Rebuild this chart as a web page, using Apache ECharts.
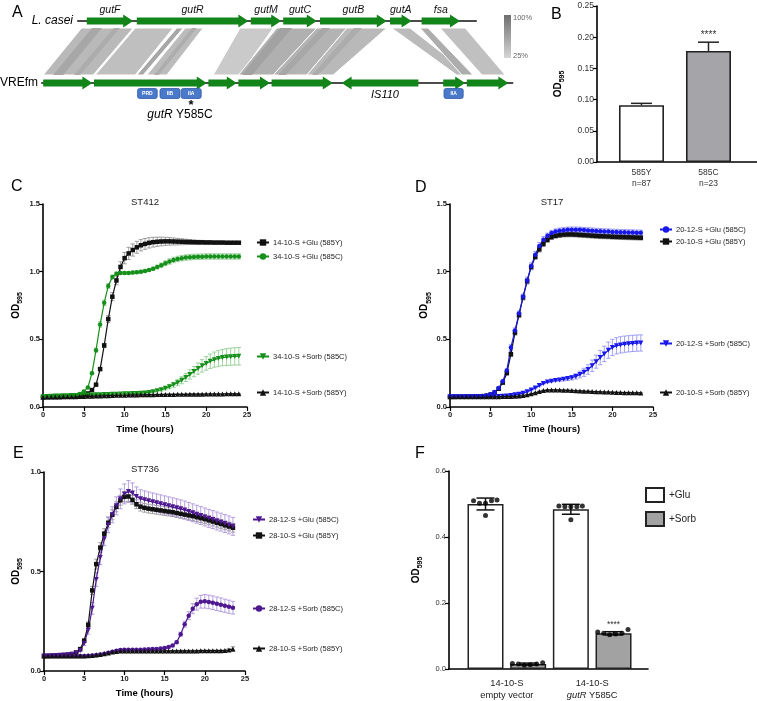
<!DOCTYPE html>
<html><head><meta charset="utf-8">
<script src="https://cdn.jsdelivr.net/npm/echarts@6/dist/echarts.min.js"></script>
<style>html,body{margin:0;padding:0;background:#fff}#c{width:757px;height:701px}</style>
</head><body><div id="c"></div>
<script>
const FONT = '"Liberation Sans", Arial, Helvetica, sans-serif';

// ---------------- Panel A : locus comparison (positions in kb) ----------------
const lcaseiGenes = ['gutF','gutR','gutM','gutC','gutB','gutA','fsa'];
const lcaseiStart = [1.17, 2.42, 5.27, 6.08, 7.00, 8.75, 9.54];
const lcaseiEnd   = [2.33, 5.21, 6.03, 6.92, 8.67, 9.29, 10.50];
const lcaseiSpan  = [0.93, 10.92];
const vrefmStart  = [0.08, 1.35, 4.21, 4.96, 5.79, 7.54, 10.08, 10.67];
const vrefmEnd    = [1.31, 4.17, 4.92, 5.75, 7.32, 9.46, 10.63, 11.71];
const vrefmStrand = [1, 1, 1, 1, 1, -1, 1, 1];
const vrefmSpan   = [0.03, 11.83];
const domainNames = ['PRD','IIB','IIA','IIA'];
const domainStart = [2.44, 3.00, 3.53, 10.10];
const domainEnd   = [2.93, 3.50, 4.03, 10.58];
// homology blocks (L. casei start/end, VREfm start/end, % identity)
const hbTopStart = [1.04, 2.38, 3.42, 3.63, 5.00, 5.92, 6.92, 7.67, 8.79, 9.50, 10.00];
const hbTopEnd   = [2.33, 3.33, 3.58, 4.08, 5.83, 6.92, 7.67, 8.67, 9.25, 9.70, 10.63];
const hbBotStart = [0.08, 1.38, 2.42, 2.67, 4.33, 4.96, 5.83, 6.67, 10.42, 10.55, 11.05];
const hbBotEnd   = [1.33, 2.38, 2.58, 3.17, 5.00, 5.83, 6.67, 7.33, 10.75, 10.83, 11.63];
const hbIdentity = [47, 43, 60, 45, 35, 54, 52, 47, 46, 56, 42];
// higher-identity sub-segments inside blocks
const hsTopStart = [1.30, 1.85, 3.80, 6.00, 7.05, 7.85];
const hsTopEnd   = [1.55, 2.00, 3.92, 6.30, 7.25, 8.05];
const hsBotStart = [0.33, 0.85, 2.85, 5.05, 5.95, 6.80];
const hsBotEnd   = [0.58, 1.00, 2.97, 5.30, 6.15, 6.95];
const hsIdentity = [60, 57, 56, 64, 60, 57];

// ---------------- Panel B ----------------
const bCategories = ['585Y\nn=87', '585C\nn=23'];
const bMeans = [0.091, 0.178];
const bSEM   = [0.003, 0.014];
const bSignif = ['', '****'];

// ---------------- Panels C, D, E (OD595 vs time, hours) ----------------
const cTime = [0,0.5,1,1.5,2,2.5,3,3.5,4,4.5,5,5.5,6,6.5,7,7.5,8,8.5,9,9.5,10,10.5,11,11.5,12,12.5,13,13.5,14,14.5,15,15.5,16,16.5,17,17.5,18,18.5,19,19.5,20,20.5,21,21.5,22,22.5,23,23.5,24];
const deTime = [0,0.5,1,1.5,2,2.5,3,3.5,4,4.5,5,5.5,6,6.5,7,7.5,8,8.5,9,9.5,10,10.5,11,11.5,12,12.5,13,13.5,14,14.5,15,15.5,16,16.5,17,17.5,18,18.5,19,19.5,20,20.5,21,21.5,22,22.5,23,23.5];

// C: ST412
const cGlu585Y = [0.073,0.073,0.074,0.074,0.075,0.075,0.076,0.077,0.079,0.083,0.089,0.100,0.125,0.165,
 0.280,0.455,0.650,0.815,0.935,1.035,1.100,1.135,1.160,1.180,1.195,1.205,1.213,1.218,1.221,1.223,
 1.224,1.224,1.223,1.222,1.221,1.220,1.219,1.218,1.217,1.217,1.216,1.216,1.215,1.215,1.215,1.214,1.214,1.214,1.214];
const cGlu585Ysd = [0.003,0.003,0.003,0.003,0.003,0.003,0.003,0.003,0.003,0.003,0.003,0.003,0.003,0.003,
 0.008,0.015,0.025,0.030,0.032,0.038,0.042,0.045,0.045,0.044,0.042,0.040,0.038,0.036,0.034,0.032,
 0.030,0.028,0.026,0.024,0.022,0.020,0.018,0.016,0.015,0.014,0.013,0.012,0.011,0.010,0.010,0.009,0.009,0.008,0.008];
const cGlu585C = [0.075,0.076,0.077,0.077,0.078,0.079,0.080,0.082,0.086,0.096,0.115,0.145,0.250,0.420,
 0.610,0.770,0.895,0.960,0.985,0.990,0.990,0.991,0.993,0.996,1.000,1.005,1.012,1.022,1.034,1.048,
 1.062,1.075,1.086,1.094,1.100,1.104,1.107,1.109,1.110,1.111,1.112,1.112,1.112,1.112,1.112,1.112,1.112,1.112,1.112];
const cGlu585Csd = [0.004,0.004,0.004,0.004,0.004,0.004,0.004,0.004,0.004,0.004,0.004,0.004,0.010,0.015,
 0.020,0.020,0.018,0.015,0.012,0.010,0.010,0.010,0.010,0.010,0.010,0.010,0.010,0.012,0.014,0.016,
 0.018,0.020,0.020,0.020,0.020,0.020,0.020,0.020,0.020,0.020,0.020,0.020,0.020,0.020,0.020,0.020,0.020,0.020,0.020];
const cSorb585C = [0.075,0.078,0.080,0.081,0.082,0.083,0.084,0.085,0.085,0.086,0.087,0.088,0.089,0.090,
 0.091,0.092,0.093,0.094,0.095,0.096,0.097,0.098,0.099,0.100,0.102,0.104,0.108,0.113,0.120,0.128,
 0.138,0.150,0.164,0.180,0.198,0.218,0.240,0.262,0.284,0.304,0.322,0.338,0.350,0.359,0.365,0.369,0.372,0.374,0.375];
const cSorb585Csd = [0.004,0.004,0.004,0.004,0.004,0.004,0.004,0.004,0.004,0.004,0.004,0.004,0.004,0.004,
 0.004,0.004,0.004,0.004,0.004,0.004,0.004,0.004,0.004,0.004,0.004,0.004,0.005,0.006,0.008,0.010,
 0.012,0.015,0.018,0.022,0.026,0.030,0.034,0.038,0.042,0.046,0.050,0.053,0.056,0.058,0.060,0.062,0.063,0.064,0.065];
const cSorb585Y = [0.072,0.073,0.073,0.074,0.074,0.075,0.075,0.076,0.076,0.077,0.078,0.079,0.080,0.081,
 0.082,0.083,0.084,0.085,0.086,0.087,0.087,0.088,0.089,0.089,0.090,0.090,0.091,0.091,0.092,0.092,
 0.093,0.093,0.093,0.094,0.094,0.094,0.095,0.095,0.095,0.095,0.096,0.096,0.096,0.096,0.096,0.097,0.097,0.097,0.097];
const cSorb585Ysd = [0.003,0.003,0.003,0.003,0.003,0.003,0.003,0.003,0.003,0.003,0.003,0.003,0.003,0.003,
 0.003,0.003,0.003,0.003,0.003,0.003,0.003,0.003,0.003,0.003,0.003,0.003,0.003,0.003,0.003,0.003,
 0.003,0.003,0.003,0.003,0.003,0.003,0.003,0.003,0.003,0.003,0.003,0.003,0.003,0.003,0.003,0.003,0.003,0.003,0.003];

// D: ST17
const dGlu585C = [0.075,0.075,0.076,0.076,0.077,0.077,0.078,0.079,0.081,0.085,0.094,0.110,0.140,0.190,
 0.270,0.440,0.565,0.690,0.815,0.935,1.040,1.125,1.190,1.235,1.265,1.285,1.296,1.302,1.306,1.309,
 1.310,1.310,1.309,1.307,1.305,1.303,1.301,1.299,1.297,1.296,1.294,1.293,1.292,1.291,1.290,1.289,1.288,1.287];
const dGlu585Csd = [0.003,0.003,0.003,0.003,0.003,0.003,0.003,0.003,0.003,0.003,0.003,0.003,0.003,0.003,
 0.010,0.020,0.020,0.020,0.020,0.025,0.025,0.025,0.025,0.025,0.020,0.020,0.020,0.020,0.020,0.020,
 0.020,0.020,0.020,0.020,0.020,0.020,0.020,0.020,0.020,0.020,0.020,0.020,0.020,0.020,0.020,0.020,0.020,0.020];
const dGlu585Y = [0.075,0.075,0.076,0.076,0.077,0.077,0.078,0.079,0.080,0.084,0.092,0.107,0.135,0.180,
 0.250,0.390,0.550,0.680,0.810,0.930,1.035,1.110,1.165,1.205,1.235,1.255,1.265,1.270,1.274,1.275,
 1.275,1.274,1.272,1.270,1.268,1.266,1.264,1.262,1.261,1.260,1.258,1.257,1.256,1.255,1.254,1.253,1.252,1.251];
const dGlu585Ysd = [0.003,0.003,0.003,0.003,0.003,0.003,0.003,0.003,0.003,0.003,0.003,0.003,0.003,0.003,
 0.010,0.015,0.020,0.020,0.020,0.020,0.020,0.020,0.020,0.020,0.018,0.018,0.018,0.018,0.018,0.018,
 0.018,0.018,0.018,0.018,0.018,0.018,0.018,0.018,0.018,0.018,0.018,0.018,0.018,0.018,0.018,0.018,0.018,0.018];
const dSorb585C = [0.075,0.075,0.075,0.075,0.075,0.075,0.075,0.075,0.075,0.075,0.076,0.076,0.077,0.079,
 0.082,0.085,0.090,0.095,0.102,0.113,0.125,0.140,0.158,0.174,0.184,0.190,0.196,0.200,0.205,0.210,
 0.216,0.226,0.240,0.256,0.277,0.305,0.335,0.365,0.392,0.420,0.440,0.452,0.459,0.464,0.467,0.470,0.472,0.473];
const dSorb585Csd = [0.004,0.004,0.004,0.004,0.004,0.004,0.004,0.004,0.004,0.004,0.004,0.004,0.004,0.004,
 0.004,0.004,0.004,0.004,0.004,0.004,0.004,0.004,0.004,0.004,0.004,0.006,0.008,0.010,0.012,0.014,
 0.016,0.020,0.025,0.030,0.035,0.042,0.048,0.053,0.057,0.060,0.060,0.060,0.060,0.060,0.060,0.060,0.060,0.060];
const dSorb585Y = [0.075,0.075,0.075,0.075,0.075,0.075,0.075,0.075,0.075,0.075,0.075,0.076,0.076,0.077,
 0.077,0.078,0.079,0.081,0.085,0.090,0.097,0.105,0.114,0.121,0.125,0.126,0.126,0.125,0.124,0.123,
 0.122,0.120,0.119,0.117,0.116,0.114,0.113,0.112,0.111,0.110,0.109,0.108,0.107,0.106,0.106,0.105,0.105,0.104];
const dSorb585Ysd = [0.003,0.003,0.003,0.003,0.003,0.003,0.003,0.003,0.003,0.003,0.003,0.003,0.003,0.003,
 0.003,0.003,0.003,0.003,0.003,0.003,0.003,0.003,0.003,0.003,0.003,0.003,0.003,0.003,0.003,0.003,
 0.003,0.003,0.003,0.003,0.003,0.003,0.003,0.003,0.003,0.003,0.003,0.003,0.003,0.003,0.003,0.003,0.003,0.003];

// E: ST736
const eGlu585C = [0.075,0.076,0.077,0.078,0.079,0.080,0.082,0.084,0.090,0.103,0.140,0.205,0.315,0.460,
 0.570,0.665,0.735,0.785,0.830,0.865,0.890,0.902,0.895,0.877,0.866,0.860,0.855,0.850,0.845,0.840,
 0.835,0.830,0.825,0.820,0.815,0.809,0.802,0.795,0.788,0.781,0.774,0.767,0.761,0.754,0.748,0.741,0.734,0.727];
const eGlu585Csd = [0.003,0.003,0.003,0.003,0.003,0.003,0.003,0.003,0.003,0.006,0.012,0.020,0.030,0.035,
 0.035,0.035,0.040,0.040,0.045,0.050,0.050,0.055,0.050,0.048,0.045,0.045,0.045,0.045,0.045,0.045,
 0.045,0.045,0.045,0.045,0.045,0.045,0.045,0.045,0.045,0.045,0.045,0.045,0.045,0.045,0.045,0.045,0.045,0.045];
const eGlu585Y = [0.075,0.076,0.077,0.078,0.079,0.080,0.082,0.085,0.093,0.110,0.152,0.232,0.405,0.537,
 0.620,0.690,0.745,0.785,0.825,0.858,0.875,0.877,0.860,0.838,0.826,0.820,0.816,0.813,0.810,0.807,
 0.804,0.801,0.798,0.794,0.790,0.786,0.782,0.778,0.773,0.768,0.763,0.757,0.751,0.745,0.739,0.732,0.726,0.720];
const eGlu585Ysd = [0.003,0.003,0.003,0.003,0.003,0.003,0.003,0.003,0.003,0.005,0.010,0.015,0.020,0.025,
 0.025,0.025,0.025,0.025,0.025,0.025,0.025,0.025,0.022,0.022,0.022,0.022,0.022,0.022,0.022,0.022,
 0.022,0.022,0.022,0.022,0.022,0.022,0.022,0.022,0.022,0.022,0.022,0.022,0.022,0.022,0.022,0.022,0.022,0.022];
const eSorb585C = [0.075,0.075,0.075,0.075,0.075,0.075,0.075,0.075,0.075,0.076,0.076,0.077,0.078,0.080,
 0.083,0.087,0.092,0.097,0.102,0.106,0.107,0.107,0.107,0.107,0.107,0.108,0.109,0.110,0.111,0.113,
 0.116,0.120,0.128,0.145,0.185,0.235,0.278,0.313,0.336,0.348,0.350,0.347,0.343,0.338,0.333,0.328,0.323,0.318];
const eSorb585Csd = [0.004,0.004,0.004,0.004,0.004,0.004,0.004,0.004,0.004,0.004,0.004,0.004,0.004,0.004,
 0.004,0.004,0.004,0.004,0.004,0.004,0.004,0.004,0.004,0.004,0.004,0.004,0.004,0.004,0.004,0.004,
 0.004,0.004,0.004,0.006,0.010,0.015,0.020,0.025,0.030,0.032,0.034,0.034,0.034,0.034,0.034,0.033,0.033,0.032];
const eSorb585Y = [0.075,0.075,0.075,0.075,0.075,0.075,0.075,0.075,0.075,0.076,0.076,0.077,0.078,0.080,
 0.083,0.087,0.091,0.095,0.098,0.100,0.101,0.101,0.101,0.101,0.101,0.101,0.101,0.101,0.101,0.101,
 0.101,0.101,0.101,0.101,0.101,0.101,0.101,0.101,0.101,0.102,0.102,0.102,0.102,0.102,0.102,0.103,0.106,0.110];
const eSorb585Ysd = [0.003,0.003,0.003,0.003,0.003,0.003,0.003,0.003,0.003,0.003,0.003,0.003,0.003,0.003,
 0.003,0.003,0.003,0.003,0.003,0.003,0.003,0.003,0.003,0.003,0.003,0.003,0.003,0.003,0.003,0.003,
 0.003,0.003,0.003,0.003,0.003,0.003,0.003,0.003,0.003,0.003,0.003,0.003,0.003,0.003,0.003,0.003,0.006,0.012];

// ---------------- Panel F ----------------
const fGroups = ['14-10-S\nempty vector', '14-10-S\n{i|gutR} Y585C'];
const fMedia = ['+Glu', '+Sorb'];
const fGluMean = [0.500, 0.484];
const fGluSD   = [0.018, 0.015];
const fSorbMean = [0.015, 0.108];
const fSorbSD   = [0.003, 0.005];
const fGluReps  = [[0.510,0.502,0.502,0.510,0.512,0.465],[0.494,0.492,0.492,0.492,0.494,0.452]];
const fSorbReps = [[0.017,0.015,0.011,0.013,0.015,0.019],[0.112,0.108,0.104,0.106,0.108,0.120]];
const fSignif = [['',''],['','****']];

// =====================================================================
const chart = echarts.init(document.getElementById('c'), null, {renderer:'canvas', width:757, height:701});

function axisBase(gi, extra){
  const base = {gridIndex: gi, type:'value', splitLine:{show:false},
    axisLine:{show:true, onZero:false, lineStyle:{color:'#000', width:1.6}},
    axisTick:{show:true, inside:false, length:4, lineStyle:{color:'#000', width:1.2}},
    axisLabel:{fontFamily:FONT, fontSize:7.5, color:'#222', margin:3}};
  for (const k in extra) {
    if (base[k] && typeof base[k]==='object' && extra[k] && typeof extra[k]==='object' && !Array.isArray(extra[k]))
      base[k] = Object.assign({}, base[k], extra[k]);
    else base[k] = extra[k];
  }
  return base;
}
function odName(gap){
  return {name:'{b|OD}{s|595}', nameLocation:'middle', nameGap:gap, nameRotate:90,
    nameTextStyle:{rich:{
      b:{fontFamily:FONT, fontSize:10, fontWeight:'bold', color:'#000', lineHeight:14, verticalAlign:'top'},
      s:{fontFamily:FONT, fontSize:7, fontWeight:'bold', color:'#000', lineHeight:14, verticalAlign:'top', padding:[6,0,0,0]}
    }}};
}
function timeAxis(gi){
  return axisBase(gi, {min:0, max:25, interval:5, name:'Time (hours)', nameLocation:'middle', nameGap:17,
    nameTextStyle:{fontFamily:FONT, fontSize:9.5, fontWeight:'bold', color:'#000'},
    axisLabel:{fontWeight:'bold', margin:4}});
}
function odAxis(gi, max, gap){
  return axisBase(gi, Object.assign({min:0, max:max, interval:0.5,
    axisLabel:{fontWeight:'bold', formatter:v=>v.toFixed(1)}}, odName(gap)));
}

const xAxes = [
  {gridIndex:0, type:'value', min:0, max:17.925, show:false},
  axisBase(1, {min:0.336, max:2.724, axisTick:{show:false},
    axisLabel:{customValues:[1,2], formatter:v=>bCategories[Math.round(v)-1], fontSize:8.5, lineHeight:11, color:'#333', margin:5}}),
  timeAxis(2), timeAxis(3), timeAxis(4),
  axisBase(5, {min:0.1446, max:4.808, axisTick:{show:false},
    axisLabel:{customValues:[1.5,3.5], formatter:v=>fGroups[Math.round((v-1.5)/2)], fontSize:9.3, lineHeight:12, color:'#222', margin:8,
      rich:{i:{fontStyle:'italic', fontSize:9.3, fontFamily:FONT, color:'#222'}}}})
];
const yAxes = [
  {gridIndex:0, type:'value', min:0, max:1, show:false},
  axisBase(1, Object.assign({min:0, max:0.25, interval:0.05,
    axisLabel:{fontSize:8.5, color:'#333', formatter:v=>v.toFixed(2)}}, odName(30))),
  odAxis(2, 1.5, 18), odAxis(3, 1.5, 16), odAxis(4, 1.0, 19),
  axisBase(5, Object.assign({min:0, max:0.6, interval:0.2,
    axisLabel:{fontSize:7.5, color:'#333', formatter:v=>v.toFixed(1)}}, odName(24)))
];

const series = [];

// ---- Panel A series ----
const greyFor = id => { const g = Math.round(216 - (id-25)/75*104); return 'rgb('+g+','+g+','+g+')'; };
function bandRender(stroke){
  return (p, api) => {
    const t0 = api.coord([api.value(0), 1]), t1 = api.coord([api.value(1), 1]);
    const b0 = api.coord([api.value(2), 0]), b1 = api.coord([api.value(3), 0]);
    const yt = t0[1] + 7, yb = b0[1] - 8;
    return {type:'polygon', shape:{points:[[t0[0],yt],[t1[0],yt],[b1[0],yb],[b0[0],yb]]},
      style:{fill:greyFor(api.value(4)), stroke: stroke ? '#fff' : null, lineWidth: stroke ? 1 : 0}};
  };
}
series.push({type:'custom', xAxisIndex:0, yAxisIndex:0, silent:true, clip:false, z:1,
  data: hbTopStart.map((v,i)=>[v, hbTopEnd[i], hbBotStart[i], hbBotEnd[i], hbIdentity[i]]),
  renderItem: bandRender(true)});
series.push({type:'custom', xAxisIndex:0, yAxisIndex:0, silent:true, clip:false, z:2,
  data: hsTopStart.map((v,i)=>[v, hsTopEnd[i], hsBotStart[i], hsBotEnd[i], hsIdentity[i]]),
  renderItem: bandRender(false)});
// backbones
series.push({type:'custom', xAxisIndex:0, yAxisIndex:0, silent:true, clip:false, z:3,
  data: [[lcaseiSpan[0], lcaseiSpan[1], 1], [vrefmSpan[0], vrefmSpan[1], 0]],
  renderItem: (p, api) => {
    const a = api.coord([api.value(0), api.value(2)]), b = api.coord([api.value(1), api.value(2)]);
    return {type:'line', shape:{x1:a[0], y1:a[1], x2:b[0], y2:b[1]}, style:{stroke:'#111', lineWidth:1.3}};
  }});
function arrowShape(x0, x1, y, dir){
  const bh = 3.5, hh = 6.5, hl = Math.min(10, Math.abs(x1-x0));
  if (dir > 0) return [[x0,y-bh],[x1-hl,y-bh],[x1-hl,y-hh],[x1,y],[x1-hl,y+hh],[x1-hl,y+bh],[x0,y+bh]];
  return [[x1,y-bh],[x0+hl,y-bh],[x0+hl,y-hh],[x0,y],[x0+hl,y+hh],[x0+hl,y+bh],[x1,y+bh]];
}
const GENE_GREEN = '#12841a';
series.push({type:'custom', xAxisIndex:0, yAxisIndex:0, silent:true, clip:false, z:4,
  data: lcaseiStart.map((v,i)=>[v, lcaseiEnd[i], 1]),
  renderItem: (p, api) => {
    const a = api.coord([api.value(0), 1]), b = api.coord([api.value(1), 1]);
    return {type:'group', children:[
      {type:'polygon', shape:{points:arrowShape(a[0], b[0], a[1], 1)}, style:{fill:GENE_GREEN}},
      {type:'text', x:(a[0]+b[0])/2, y:a[1]-11, style:{text:lcaseiGenes[p.dataIndex], fontFamily:FONT, fontSize:10.5, fontStyle:'italic', fill:'#111', textAlign:'center', textVerticalAlign:'middle'}}
    ]};
  }});
series.push({type:'custom', xAxisIndex:0, yAxisIndex:0, silent:true, clip:false, z:4,
  data: vrefmStart.map((v,i)=>[v, vrefmEnd[i], vrefmStrand[i]]),
  renderItem: (p, api) => {
    const a = api.coord([api.value(0), 0]), b = api.coord([api.value(1), 0]);
    return {type:'polygon', shape:{points:arrowShape(a[0], b[0], a[1], api.value(2))}, style:{fill:GENE_GREEN}};
  }});
series.push({type:'custom', xAxisIndex:0, yAxisIndex:0, silent:true, clip:false, z:4,
  data: domainStart.map((v,i)=>[v, domainEnd[i]]),
  renderItem: (p, api) => {
    const a = api.coord([api.value(0), 0]), b = api.coord([api.value(1), 0]);
    return {type:'group', children:[
      {type:'rect', shape:{x:a[0], y:a[1]+5.5, width:b[0]-a[0], height:10, r:2}, style:{fill:'#4a79c9', stroke:'#2f5cab', lineWidth:0.8}},
      {type:'text', x:(a[0]+b[0])/2, y:a[1]+10.7, style:{text:domainNames[p.dataIndex], fontFamily:FONT, fontSize:5, fontWeight:'bold', fill:'#fff', textAlign:'center', textVerticalAlign:'middle'}}
    ]};
  }});

// ---- error-bar renderer ----
function errRender(color, cap, lw, upperOnly){
  return (p, api) => {
    const x = api.value(0), m = api.value(1), s = api.value(2);
    const top = api.coord([x, m+s]); const bot = api.coord([x, upperOnly ? m : m-s]);
    const st = {stroke:color, lineWidth:lw};
    const ch = [{type:'line', shape:{x1:top[0],y1:top[1],x2:bot[0],y2:bot[1]}, style:st},
                {type:'line', shape:{x1:top[0]-cap,y1:top[1],x2:top[0]+cap,y2:top[1]}, style:st}];
    if (!upperOnly) ch.push({type:'line', shape:{x1:bot[0]-cap,y1:bot[1],x2:bot[0]+cap,y2:bot[1]}, style:st});
    return {type:'group', children:ch};
  };
}
function sigRender(labels, size){
  return (p, api) => {
    const c = api.coord([api.value(0), api.value(1)]);
    return {type:'text', x:c[0], y:c[1]-7, style:{text:labels[p.dataIndex], fontFamily:FONT, fontSize:size, fill:'#333', textAlign:'center', textVerticalAlign:'middle'}};
  };
}

// ---- Panel B ----
const bFill = ['#ffffff', '#a5a5a9'];
series.push({type:'bar', xAxisIndex:1, yAxisIndex:1, barWidth:45, z:2,
  data: bMeans.map((v,i)=>({value:[i+1, v], itemStyle:{color:bFill[i], borderColor:'#222', borderWidth:1.6}}))});
series.push({type:'custom', xAxisIndex:1, yAxisIndex:1, silent:true, z:3,
  data: bMeans.map((v,i)=>[i+1, v, bSEM[i]]), renderItem: errRender('#222', 10.5, 1.5, true)});
series.push({type:'custom', xAxisIndex:1, yAxisIndex:1, silent:true, z:3,
  data: bMeans.map((v,i)=>[i+1, v+bSEM[i]]), renderItem: sigRender(bSignif, 10)});

// ---- Line panels ----
function linePanel(gi, time, defs){
  defs.forEach(d => {
    series.push({type:'custom', xAxisIndex:gi, yAxisIndex:gi, silent:true, z:2, clip:false,
      data: time.map((t,i)=>[t, d.v[i], d.sd[i]]), renderItem: errRender(d.err, 2.2, 0.8, false)});
    series.push({type:'line', name:d.name, xAxisIndex:gi, yAxisIndex:gi, z:3,
      data: time.map((t,i)=>[t, d.v[i]]), symbol:d.symbol, symbolRotate:d.rot||0, symbolSize:d.size,
      showSymbol:true, showAllSymbol:true, lineStyle:{color:d.color, width:1.2}, itemStyle:{color:d.color}});
  });
}
const BLK = '#111', BLKERR = '#8a8a8a';
const GRN = '#16901a', GRNERR = '#86c886';
const BLU = '#1818ec', BLUERR = '#8c8cf4';
const PUR = '#4e1890', PURERR = '#a58ad8';
linePanel(2, cTime, [
  {name:'14-10-S +Glu (585Y)', v:cGlu585Y, sd:cGlu585Ysd, color:BLK, err:BLKERR, symbol:'rect', size:4.5},
  {name:'34-10-S +Glu (585C)', v:cGlu585C, sd:cGlu585Csd, color:GRN, err:GRNERR, symbol:'circle', size:4.5},
  {name:'34-10-S +Sorb (585C)', v:cSorb585C, sd:cSorb585Csd, color:GRN, err:GRNERR, symbol:'triangle', rot:180, size:5},
  {name:'14-10-S +Sorb (585Y)', v:cSorb585Y, sd:cSorb585Ysd, color:BLK, err:BLKERR, symbol:'triangle', size:5}
]);
linePanel(3, deTime, [
  {name:'20-10-S +Glu (585Y)', v:dGlu585Y, sd:dGlu585Ysd, color:BLK, err:BLKERR, symbol:'rect', size:4.5},
  {name:'20-12-S +Glu (585C)', v:dGlu585C, sd:dGlu585Csd, color:BLU, err:BLUERR, symbol:'circle', size:4.5},
  {name:'20-12-S +Sorb (585C)', v:dSorb585C, sd:dSorb585Csd, color:BLU, err:BLUERR, symbol:'triangle', rot:180, size:5},
  {name:'20-10-S +Sorb (585Y)', v:dSorb585Y, sd:dSorb585Ysd, color:BLK, err:BLKERR, symbol:'triangle', size:5}
]);
linePanel(4, deTime, [
  {name:'28-10-S +Glu (585Y)', v:eGlu585Y, sd:eGlu585Ysd, color:BLK, err:BLKERR, symbol:'rect', size:4.5},
  {name:'28-12-S +Glu (585C)', v:eGlu585C, sd:eGlu585Csd, color:PUR, err:PURERR, symbol:'triangle', rot:180, size:5},
  {name:'28-12-S +Sorb (585C)', v:eSorb585C, sd:eSorb585Csd, color:PUR, err:PURERR, symbol:'circle', size:4.5},
  {name:'28-10-S +Sorb (585Y)', v:eSorb585Y, sd:eSorb585Ysd, color:BLK, err:BLKERR, symbol:'triangle', size:5}
]);

// ---- Panel F ----
const fPos = (g, m) => g*2 + m + 1;
const gluJitter = [-0.28,-0.14,0,0.14,0.27,0];
const sorbJitter = [-0.37,-0.23,-0.09,0.05,0.2,0.34];
series.push({type:'bar', name:fMedia[0], xAxisIndex:5, yAxisIndex:5, barWidth:36, barGap:'-100%', z:2,
  itemStyle:{color:'#ffffff', borderColor:'#222', borderWidth:1.5},
  data: fGluMean.map((v,g)=>[fPos(g,0), v])});
series.push({type:'bar', name:fMedia[1], xAxisIndex:5, yAxisIndex:5, barWidth:36, barGap:'-100%', z:2,
  itemStyle:{color:'#a2a2a2', borderColor:'#222', borderWidth:1.5},
  data: fSorbMean.map((v,g)=>[fPos(g,1), v])});
series.push({type:'custom', xAxisIndex:5, yAxisIndex:5, silent:true, z:3,
  data: fGluMean.map((v,g)=>[fPos(g,0), v, fGluSD[g]]).concat(fSorbMean.map((v,g)=>[fPos(g,1), v, fSorbSD[g]])),
  renderItem: errRender('#111', 9, 1.5, false)});
const fDots = [];
fGluReps.forEach((reps,g)=>reps.forEach((r,k)=>fDots.push([fPos(g,0)+gluJitter[k], r])));
fSorbReps.forEach((reps,g)=>reps.forEach((r,k)=>fDots.push([fPos(g,1)+sorbJitter[k], r])));
series.push({type:'scatter', xAxisIndex:5, yAxisIndex:5, symbol:'circle', symbolSize:5, z:4, silent:true,
  itemStyle:{color:'#000'}, data:fDots});
const fSigLabels = [fSignif[0][0], fSignif[1][0], fSignif[0][1], fSignif[1][1]];
series.push({type:'custom', xAxisIndex:5, yAxisIndex:5, silent:true, z:4,
  data: fGluMean.map((v,g)=>[fPos(g,0), v+fGluSD[g]]).concat(fSorbMean.map((v,g)=>[fPos(g,1), v+fSorbSD[g]])),
  renderItem: sigRender(fSigLabels, 8.5)});

// ---- Legends ----
function mkLegend(name, left, cy){
  return {data:[name], left:left, top:cy-4.5, itemWidth:12, itemHeight:8, padding:0, itemGap:0, selectedMode:false,
    textStyle:{fontFamily:FONT, fontSize:7.5, color:'#222', padding:[0,0,0,-1]}};
}
const legends = [
  mkLegend('14-10-S +Glu (585Y)', 256, 243), mkLegend('34-10-S +Glu (585C)', 256, 257),
  mkLegend('34-10-S +Sorb (585C)', 256, 357), mkLegend('14-10-S +Sorb (585Y)', 256, 393),
  mkLegend('20-12-S +Glu (585C)', 659, 230), mkLegend('20-10-S +Glu (585Y)', 659, 242),
  mkLegend('20-12-S +Sorb (585C)', 659, 344), mkLegend('20-10-S +Sorb (585Y)', 659, 393),
  mkLegend('28-12-S +Glu (585C)', 252, 520), mkLegend('28-10-S +Glu (585Y)', 252, 536),
  mkLegend('28-12-S +Sorb (585C)', 252, 609), mkLegend('28-10-S +Sorb (585Y)', 252, 649),
  {data:fMedia, orient:'vertical', left:645, top:487, itemWidth:18, itemHeight:14, itemGap:8, padding:0, selectedMode:false,
    icon:'rect', textStyle:{fontFamily:FONT, fontSize:10, color:'#222'}}
];

// ---- Texts ----
function txt(x, y, text, size, extra){
  return {type:'text', x:x, y:y, silent:true, style:Object.assign({text:text, fontFamily:FONT, fontSize:size, fill:'#000',
    textAlign:'left', textVerticalAlign:'middle'}, extra||{})};
}
const graphics = [
  txt(12, 13, 'A', 16), txt(551, 15, 'B', 16), txt(11, 187, 'C', 16), txt(415, 188, 'D', 16),
  txt(13, 454, 'E', 16), txt(415, 454, 'F', 16),
  txt(145, 202, 'ST412', 9.5, {textAlign:'center', fill:'#222'}),
  txt(552, 202, 'ST17', 9.5, {textAlign:'center', fill:'#222'}),
  txt(145, 469, 'ST736', 9.5, {textAlign:'center', fill:'#222'}),
  txt(73, 21, 'L. casei', 12, {textAlign:'right', fontStyle:'italic'}),
  txt(0, 83, 'VREfm', 12),
  txt(385, 95, 'IS110', 11, {textAlign:'center', fontStyle:'italic'}),
  txt(191, 105, '*', 13, {textAlign:'center', fontWeight:'bold'}),
  txt(180, 115, '{i|gutR} Y585C', 12, {textAlign:'center', rich:{i:{fontStyle:'italic', fontFamily:FONT, fontSize:12, fill:'#000'}}}),
  {type:'rect', x:504, y:15, silent:true, shape:{width:7, height:43},
    style:{fill:new echarts.graphic.LinearGradient(0,0,0,1,[{offset:0,color:'#6e6e6e'},{offset:1,color:'#d6d6d6'}])}},
  txt(513, 18, '100%', 7.5, {fill:'#666'}),
  txt(513, 56, '25%', 7.5, {fill:'#666'})
];

chart.setOption({
  animation:false,
  backgroundColor:'#fff',
  textStyle:{fontFamily:FONT},
  grid:[
    {left:40, top:21, width:717, height:62},
    {left:597, top:6, width:160, height:156},
    {left:43, top:204, width:204, height:203},
    {left:450, top:204, width:203, height:203},
    {left:44, top:472, width:201, height:199},
    {left:449, top:471, width:199, height:198}
  ],
  xAxis:xAxes, yAxis:yAxes, legend:legends, series:series, graphic:graphics
});
</script></body></html>
